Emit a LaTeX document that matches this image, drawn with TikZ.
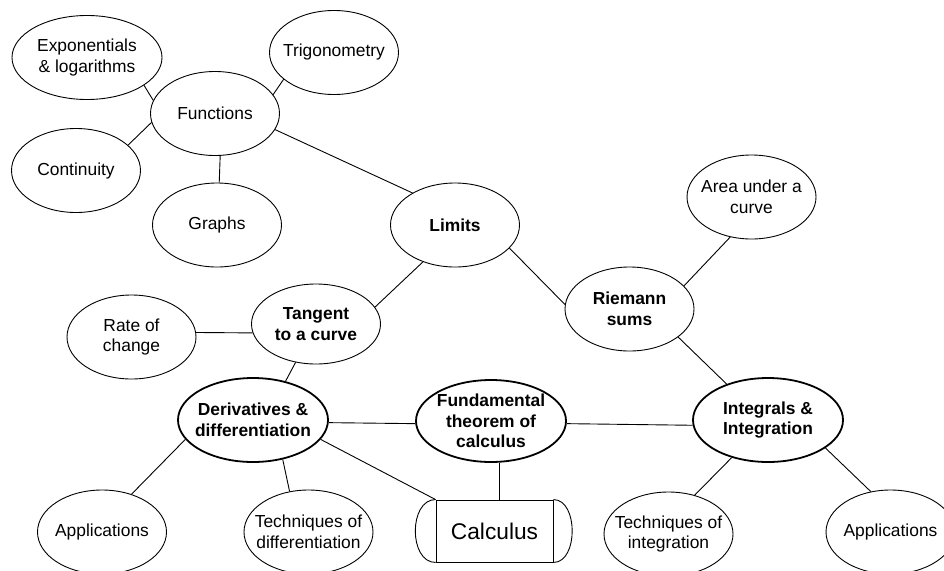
\documentclass[tikz,border=0pt]{standalone}
\usepackage{fontspec}
\setmainfont{Liberation Sans}
\usetikzlibrary{shapes.geometric}

\begin{document}
\begin{tikzpicture}[x=1pt, y=-1pt, line width=0.9pt]
    \tikzstyle{topic} = [ellipse, draw, minimum width=129pt, minimum height=84pt, inner xsep=-10pt, inner ysep=-4pt, align=center, font=\fontsize{17.4}{20.5}\selectfont]
    \tikzstyle{wide} = [topic, minimum width=150pt]
    \tikzstyle{key} = [topic, font=\fontsize{17.4}{20.5}\selectfont\bfseries]
    \tikzstyle{core} = [key, minimum width=150pt, line width=1.8pt]

    \useasboundingbox (0,0) rectangle (944,570);

    % Functions cluster (top left)
    \node[wide] (expo) at (87,57.5) {Exponentials\\\& logarithms};
    \node[topic] (trig) at (334,52.5) {Trigonometry};
    \node[topic] (func) at (215,113.5) {Functions};
    \node[topic] (cont) at (76,170.5) {Continuity};
    \node[topic] (graphs) at (217,225) {Graphs};

    % Middle row
    \node[key] (limits) at (455,225) {Limits};
    \node[topic] (area) at (751.5,197) {Area under a\\curve};
    \node[key] (riemann) at (629.5,309) {Riemann\\sums};
    \node[key, minimum height=80pt] (tangent) at (316,324) {Tangent\\to a curve};
    \node[topic] (rate) at (131.5,337) {Rate of\\change};

    % Main row
    \node[core] (deriv) at (253,420) {Derivatives \&\\differentiation};
    \node[core, minimum height=82pt] (fund) at (491,421) {Fundamental\\theorem of\\calculus};
    \node[core] (integ) at (768,420) {Integrals \&\\Integration};

    % Bottom row
    \node[topic] (appsd) at (102,532) {Applications};
    \node[topic] (techd) at (308.5,532) {Techniques of\\differentiation};
    \node[draw, rectangle, minimum width=117pt, minimum height=62pt, font=\fontsize{22.7}{26}\selectfont] (calc) at (494.5,531) {Calculus};
    \draw (calc.north west) .. controls +(-27,0) and +(-27,0) .. (calc.south west);
    \draw (calc.north east) .. controls +(25,0) and +(25,0) .. (calc.south east);
    \node[topic] (techi) at (668.5,534) {Techniques of\\integration};
    \node[topic] (appsi) at (890.5,532) {Applications};

    % Links
    \draw (expo.-26) -- (func.168);
    \draw (trig.208) -- (func.18);
    \draw (cont.26) -- (func.188);
    \draw (graphs.87) -- (func.-83);
    \draw (func.-15) -- (limits.143);
    \draw (limits.229) -- (tangent.16);
    \draw (limits.-23) -- (riemann.176);
    \draw (riemann.23) -- (area.242);
    \draw (riemann.-30) -- (integ.139);
    \draw (rate.4) -- (tangent.188);
    \draw (tangent.242) -- (deriv.50);
    \draw (deriv.-2) -- (fund.182);
    \draw (fund.-2) -- (integ.184);
    \draw (fund.-79) -- (fund.-79 |- calc.north);
    \draw (deriv.-16) -- (calc.north west);
    \draw (deriv.196) -- (appsd.52);
    \draw (deriv.-53) -- (techd.115);
    \draw (integ.226) -- (techi.56);
    \draw (integ.-26) -- (appsi.116);
\end{tikzpicture}
\end{document}
